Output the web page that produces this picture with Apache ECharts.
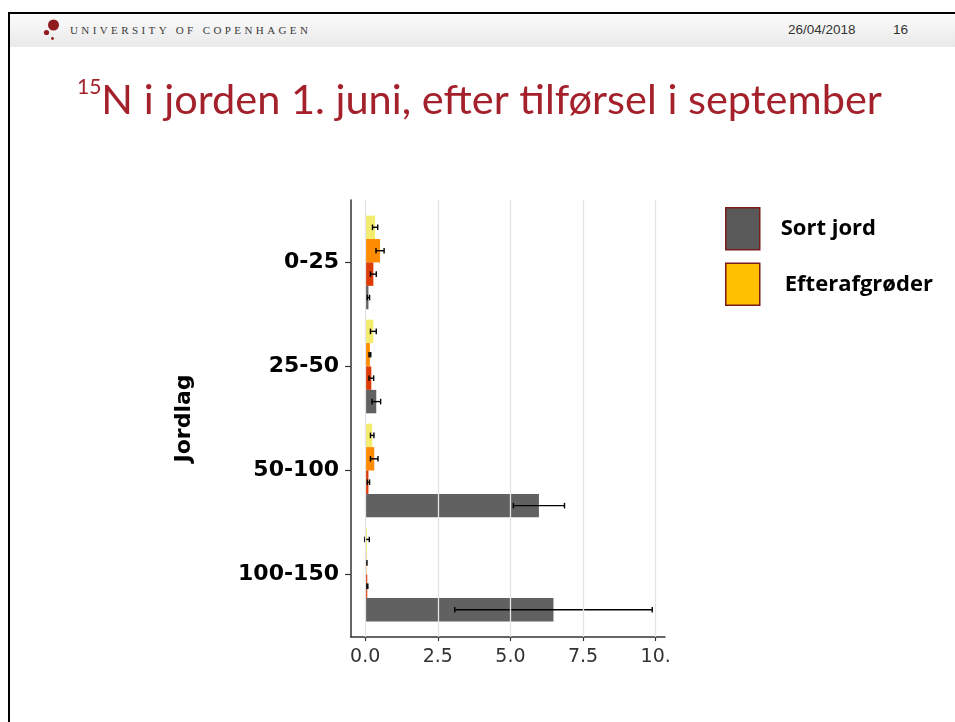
<!DOCTYPE html>
<html>
<head>
<meta charset="utf-8">
<title>15N i jorden</title>
<script src="https://cdn.jsdelivr.net/npm/echarts@6/dist/echarts.min.js"></script>
<style>
  html, body { margin: 0; padding: 0; background: #fff; }
  #slide { position: relative; width: 955px; height: 722px; overflow: hidden; }
  .frame { position: absolute; left: 8px; top: 12px; right: -4px; bottom: -10px;
           border-top: 2px solid #000; border-left: 2px solid #000; }
  .band { position: absolute; left: 10px; top: 14px; right: 0; height: 33px;
          background: linear-gradient(#fbfbfb, #e9e9e9); }
  .logo { position: absolute; left: 40px; top: 18px; }
  .uni { position: absolute; left: 70px; top: 24px; font: 11px 'Liberation Serif', serif;
         letter-spacing: 3.4px; color: #3a3a3a; line-height: 12px; white-space: nowrap; }
  .date { position: absolute; left: 788px; top: 22px; font: 13.5px 'Liberation Sans', sans-serif;
          color: #333; line-height: 16px; }
  .page { position: absolute; left: 893px; top: 22px; font: 13.5px 'Liberation Sans', sans-serif;
          color: #333; line-height: 16px; }
  #chart { position: absolute; left: 0; top: 0; width: 955px; height: 722px; }
</style>
</head>
<body>
<div id="slide">
  <div class="frame"></div>
  <div class="band"></div>
  <svg class="logo" width="24" height="26" viewBox="0 0 24 26">
    <circle cx="13.5" cy="7" r="5.5" fill="#8f1b1f"/>
    <circle cx="6.5" cy="14.5" r="2.6" fill="#8f1b1f"/>
    <circle cx="12.5" cy="20.5" r="1.4" fill="#8f1b1f"/>
  </svg>
  <div class="uni">UNIVERSITY OF COPENHAGEN</div>
  <div class="date">26/04/2018</div>
  <div class="page">16</div>
  <div id="chart"></div>
</div>
<script>
// soil layers, top to bottom
const categories = ["0-25", "25-50", "50-100", "100-150"];
const xTickValues = [0, 2.5, 5, 7.5, 10];
const xTickLabels = ["0.0", "2.5", "5.0", "7.5", "10."];

// 15N per layer, with error bar half-widths
const efter1Vals = [0.34, 0.28, 0.24, 0.06];
const efter1Err = [0.09, 0.10, 0.06, 0.08];
const efter2Vals = [0.51, 0.16, 0.31, 0.04];
const efter2Err = [0.14, 0.03, 0.13, 0.02];
const efter3Vals = [0.28, 0.21, 0.11, 0.07];
const efter3Err = [0.10, 0.08, 0.04, 0.02];
const sortJordVals = [0.11, 0.38, 5.98, 6.48];
const sortJordErr = [0.04, 0.15, 0.88, 3.40];

const titleColor = "#a4212b";
const barH = 0.225; // one bar's share of a category band

const chart = echarts.init(document.getElementById("chart"));

function toRows(vals, errs) {
  return vals.map((v, i) => [i, v, errs[i]]);
}

function barSeries(name, vals, errs, color, slot) {
  return {
    name: name,
    type: "custom",
    coordinateSystem: "cartesian2d",
    encode: { x: 1, y: 0 },
    itemStyle: { color: color },
    z: 3,
    data: toRows(vals, errs),
    renderItem: function (params, api) {
      const yc = api.value(0) + (slot - 1.5) * barH;
      const v = api.value(1);
      const e = api.value(2);
      const a = api.coord([0, yc - barH / 2]);
      const b = api.coord([v, yc + barH / 2]);
      const l = api.coord([v - e, yc]);
      const r = api.coord([v + e, yc]);
      const cap = 2.8;
      const line = { stroke: "#000", lineWidth: 1.4 };
      return {
        type: "group",
        children: [
          {
            type: "rect",
            shape: { x: a[0], y: Math.min(a[1], b[1]), width: b[0] - a[0], height: Math.abs(b[1] - a[1]) },
            style: { fill: color }
          },
          { type: "line", shape: { x1: l[0], y1: l[1], x2: r[0], y2: r[1] }, style: line },
          { type: "line", shape: { x1: l[0], y1: l[1] - cap, x2: l[0], y2: l[1] + cap }, style: line },
          { type: "line", shape: { x1: r[0], y1: r[1] - cap, x2: r[0], y2: r[1] + cap }, style: line }
        ]
      };
    }
  };
}

const option = {
  animation: false,
  title: {
    left: 72,
    top: 72,
    text: "{sup|15}{main|N i jorden 1. juni, efter tilførsel i september}",
    textStyle: {
      fontWeight: "normal",
      rich: {
        sup: { fontFamily: "Lato", fontWeight: "normal", fontSize: 21, color: titleColor, verticalAlign: "top", lineHeight: 27 },
        main: { fontFamily: "Lato", fontWeight: "normal", fontSize: 41.5, color: titleColor, lineHeight: 48 }
      }
    }
  },
  legend: {
    left: 725,
    top: 207,
    padding: 0,
    orient: "vertical",
    icon: "rect",
    itemWidth: 34,
    itemHeight: 42,
    itemGap: 12,
    selectedMode: false,
    data: [
      { name: "Sort jord", itemStyle: { color: "#595959", borderColor: "#7b1c1c", borderWidth: 1.5 } },
      { name: "Efterafgrøder", itemStyle: { color: "#ffc000", borderColor: "#7b1c1c", borderWidth: 1.5 } }
    ],
    formatter: function (name) {
      return name === "Sort jord" ? "{a|" + name + "}" : "{b|" + name + "}";
    },
    textStyle: {
      fontFamily: "Open Sans",
      fontWeight: 700,
      fontSize: 22,
      color: "#000",
      rich: {
        a: { fontFamily: "Open Sans", fontWeight: 700, fontSize: 22, color: "#000", padding: [0, 0, 0, 16] },
        b: { fontFamily: "Open Sans", fontWeight: 700, fontSize: 22, color: "#000", padding: [0, 0, 0, 20] }
      }
    }
  },
  grid: { left: 351, top: 200, width: 314, height: 437 },
  xAxis: {
    type: "value",
    min: -0.49,
    max: 10.32,
    axisLine: { show: true, onZero: false, lineStyle: { color: "#333", width: 1.5 } },
    axisTick: { show: true, customValues: xTickValues, length: 4, lineStyle: { color: "#333", width: 1.2 } },
    axisLabel: {
      customValues: xTickValues,
      formatter: function (v) { return xTickLabels[xTickValues.indexOf(v)]; },
      fontFamily: "DejaVu Sans",
      fontSize: 19,
      color: "#333",
      margin: 11
    },
    splitLine: { show: false }
  },
  yAxis: {
    type: "value",
    inverse: true,
    min: -0.6,
    max: 3.6,
    name: "Jordlag",
    nameLocation: "middle",
    nameRotate: 90,
    nameGap: 156,
    nameTextStyle: { fontFamily: "DejaVu Sans", fontWeight: "bold", fontSize: 22, color: "#000" },
    axisLine: { show: true, onZero: false, lineStyle: { color: "#333", width: 1.5 } },
    axisTick: { show: true, customValues: [0, 1, 2, 3], length: 6, lineStyle: { color: "#333", width: 1.2 } },
    axisLabel: {
      customValues: [0, 1, 2, 3],
      formatter: function (v) { return categories[v]; },
      fontFamily: "DejaVu Sans",
      fontWeight: "bold",
      fontSize: 22,
      color: "#000",
      margin: 12
    },
    splitLine: { show: false }
  },
  series: [
    {
      name: "grid",
      type: "line",
      data: [],
      silent: true,
      z: 1,
      markLine: {
        silent: true,
        symbol: "none",
        label: { show: false },
        lineStyle: { color: "#e4e4e4", width: 1.3, type: "solid" },
        data: xTickValues.map(v => ({ xAxis: v }))
      }
    },
    barSeries("Efterafgrøde 1", efter1Vals, efter1Err, "#f3ec6e", 0),
    barSeries("Efterafgrøde 2", efter2Vals, efter2Err, "#ff8b00", 1),
    barSeries("Efterafgrøde 3", efter3Vals, efter3Err, "#dc3b06", 2),
    barSeries("Sort jord", sortJordVals, sortJordErr, "#616161", 3),
    { name: "Efterafgrøder", type: "custom", data: [], itemStyle: { color: "#ffc000" }, renderItem: function () { return null; } }
  ]
};

chart.setOption(option);
</script>
</body>
</html>
